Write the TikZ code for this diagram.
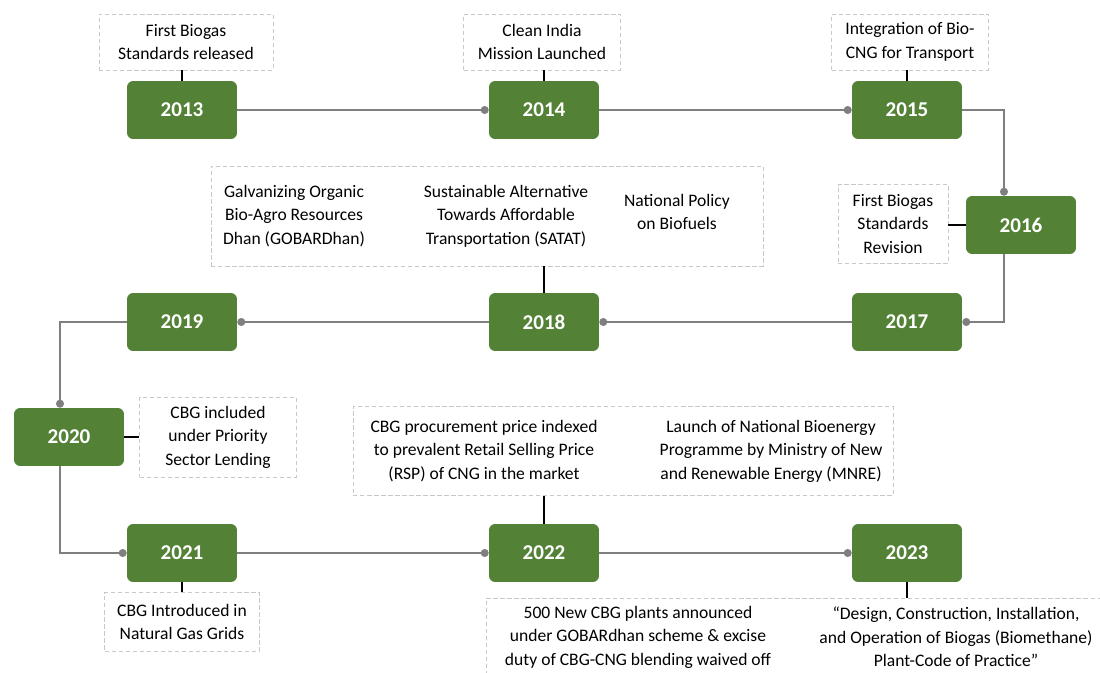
\documentclass[tikz,border=0pt]{standalone}
\usepackage{fontspec}
\setmainfont{Carlito}
\usepackage{xcolor}
\usetikzlibrary{positioning,arrows.meta,calc}
\definecolor{yeargreen}{HTML}{538135}
\definecolor{linkgray}{HTML}{7F7F7F}
\definecolor{notegray}{HTML}{C8C8C8}

\begin{document}
\begin{tikzpicture}[x=0.02cm,y=-0.02cm,font=\fontsize{10}{13.4}\selectfont,
  yr/.style={fill=yeargreen,rounded corners=3.5pt,minimum width=2.2cm,minimum height=1.16cm,inner sep=0pt,text=white,font=\fontsize{12}{14}\selectfont\bfseries},
  note/.style={draw=notegray,dash pattern=on 2.5pt off 1.5pt,line width=0.5pt,align=center,inner sep=0pt},
  txt/.style={align=center,inner sep=0pt},
  link/.style={-{Circle[length=4.5pt]},draw=linkgray,line width=1.3pt},
  tie/.style={line width=1.3pt}]
  \useasboundingbox (0,0) rectangle (1100,673);
  % year boxes
  \node[yr] (y2013) at (182,110) {2013};
  \node[yr] (y2014) at (544,110) {2014};
  \node[yr] (y2015) at (907,110) {2015};
  \node[yr] (y2016) at (1021,225) {2016};
  \node[yr] (y2017) at (907,322) {2017};
  \node[yr] (y2018) at (544,322) {2018};
  \node[yr] (y2019) at (182,322) {2019};
  \node[yr] (y2020) at (69,437) {2020};
  \node[yr] (y2021) at (182,553) {2021};
  \node[yr] (y2022) at (544,553) {2022};
  \node[yr] (y2023) at (907,553) {2023};
  % timeline
  \draw[link] (y2013) -- (y2014);
  \draw[link] (y2014) -- (y2015);
  \draw[link] (y2015.east) -| ($(y2016.north)+(-17,0)$);
  \draw[link] ($(y2016.south)+(-17,0)$) |- (y2017.east);
  \draw[link] (y2017) -- (y2018);
  \draw[link] (y2018) -- (y2019);
  \draw[link] (y2019.west) -| ($(y2020.north)+(-9,0)$);
  \draw[link] ($(y2020.south)+(-9,0)$) |- (y2021.west);
  \draw[link] (y2021) -- (y2022);
  \draw[link] (y2022) -- (y2023);
  % events
  \node[note,minimum width=3.48cm,minimum height=1.12cm] (n2013) at (186,42) {First Biogas\\Standards released};
  \node[note,minimum width=3.14cm,minimum height=1.12cm] (n2014) at (542,42) {Clean India\\Mission Launched};
  \node[note,minimum width=3.14cm,minimum height=1.12cm] (n2015) at (910,42) {Integration of Bio-\\CNG for Transport};
  \node[note,minimum width=2.2cm,minimum height=1.58cm] (n2016) at (893,224) {First Biogas\\Standards\\Revision};
  \node[note,minimum width=11.04cm,minimum height=2cm] (n2018) at (487,216) {};
  \node[txt] (t2018a) at (294,216) {Galvanizing Organic\\Bio-Agro Resources\\Dhan (GOBARDhan)};
  \node[txt] (t2018b) at (506,216) {Sustainable Alternative\\Towards Affordable\\Transportation (SATAT)};
  \node[txt] (t2018c) at (677,212) {National Policy\\on Biofuels};
  \node[note,minimum width=3.14cm,minimum height=1.6cm] (n2020) at (218,437) {CBG included\\under Priority\\Sector Lending};
  \node[note,minimum width=3.1cm,minimum height=1.18cm] (n2021) at (182,622) {CBG Introduced in\\Natural Gas Grids};
  \node[note,minimum width=10.8cm,minimum height=1.78cm] (n2022) at (623,451) {};
  \node[txt] (t2022a) at (484,451) {CBG procurement price indexed\\to prevalent Retail Selling Price\\(RSP) of CNG in the market};
  \node[txt] (t2022b) at (771,451) {Launch of National Bioenergy\\Programme by Ministry of New\\and Renewable Energy (MNRE)};
  \node[note,minimum width=12.48cm,minimum height=1.84cm] (nlow) at (798,644) {};
  \node[txt] (t2022c) at (638,637) {500 New CBG plants announced\\under GOBARdhan scheme \& excise\\duty of CBG-CNG blending waived off};
  \node[txt] (t2023) at (956,637) {“Design, Construction, Installation,\\and Operation of Biogas (Biomethane)\\Plant-Code of Practice”};
  % ties
  \draw[tie] (y2013.north) -- (y2013.north |- n2013.south);
  \draw[tie] (y2014.north) -- (y2014.north |- n2014.south);
  \draw[tie] (y2015.north) -- (y2015.north |- n2015.south);
  \draw[tie] (y2016.west) -- (y2016.west -| n2016.east);
  \draw[tie] (y2018.north) -- (y2018.north |- n2018.south);
  \draw[tie] (y2020.east) -- (y2020.east -| n2020.west);
  \draw[tie] (y2021.south) -- (y2021.south |- n2021.north);
  \draw[tie] (y2022.north) -- (y2022.north |- n2022.south);
  \draw[tie] (y2023.south) -- (y2023.south |- nlow.north);
\end{tikzpicture}
\end{document}
